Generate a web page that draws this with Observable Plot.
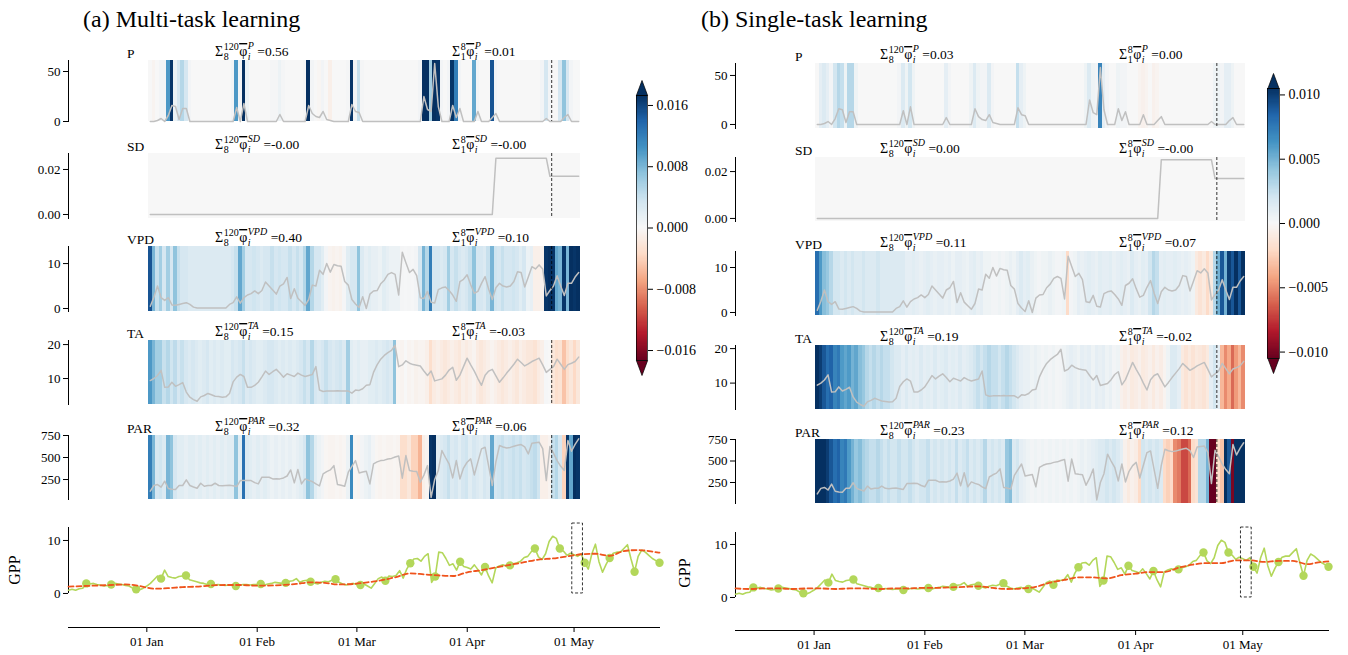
<!DOCTYPE html>
<html>
<head>
<meta charset="utf-8">
<script src="https://cdn.jsdelivr.net/npm/d3@7"></script>
<script src="https://cdn.jsdelivr.net/npm/@observablehq/plot@0.6"></script>
<style>
  body { margin: 0; background: #fff; }
  #root { position: relative; width: 1348px; height: 655px; overflow: hidden; background: #fff; }
</style>
</head>
<body>
<div id="root"></div>
<script>
// ---------------- DATA ----------------
const nLags = 120, lagSplit = 8;
const variables = ["P", "SD", "VPD", "TA", "PAR"];

// meteorological drivers over the 120-day window (same for both panels)
const metP = [
  0,0,1,3,0,6,16,15,2,13,13,0,0,0,0,0,0,0,0,0,
  0,0,0,0,14,0,18,0,0,0,0,0,0,0,0,0,7,0,0,0,
  0,0,0,0,16,8,5,4,10,2,1,0,0,0,0,0,17,10,9,0,
  0,0,0,0,0,0,0,0,0,0,0,0,0,0,0,0,25,12,10,58,
  15,0,0,0,16,4,13,0,0,0,0,10,0,0,0,4,8,0,0,0,
  0,0,0,0,0,0,0,0,0,0,3,0,0,0,0,4,7,0,0,0];
const metSD = [
  0,0,0,0,0,0,0,0,0,0,0,0,0,0,0,0,0,0,0,0,
  0,0,0,0,0,0,0,0,0,0,0,0,0,0,0,0,0,0,0,0,
  0,0,0,0,0,0,0,0,0,0,0,0,0,0,0,0,0,0,0,0,
  0,0,0,0,0,0,0,0,0,0,0,0,0,0,0,0,0,0,0,0,
  0,0,0,0,0,0,0,0,0,0,0,0,0,0,0,0,0.025,0.025,0.025,0.025,
  0.025,0.025,0.025,0.025,0.025,0.025,0.025,0.025,0.025,0.025,0.025,0.017,0.017,0.017,0.017,0.017,0.017,0.017,0.017,0.017];
const metVPD = [
  0.5,2.5,5.0,2.4,1.8,2.4,0.8,0.7,0.9,1.1,1.3,0.9,0.3,0.1,0.1,0.1,0.1,0.1,0.1,0.1,
  0.1,0.1,0.9,1.3,2.6,1.2,2.4,3.0,3.3,3.9,3.3,4.0,5.9,5.0,4.1,3.2,5.0,5.5,6.9,2.2,
  4.4,2.3,1.5,0.7,2.0,5.2,5.0,8.5,7.6,10.0,8.1,9.8,9.5,9.4,6.0,5.2,2.0,1.0,0.2,2.6,
  0.0,3.2,3.9,4.0,5.5,6.3,7.6,8.0,7.6,3.0,12.5,10.2,8.0,8.7,7.3,2.4,2.2,3.8,1.4,1.2,
  4.2,4.6,4.8,4.0,3.0,1.6,6.0,6.5,7.5,5.3,3.4,3.8,5.6,7.1,4.3,2.0,4.6,5.6,5.0,4.8,
  5.0,6.0,8.2,8.0,4.8,7.0,9.3,8.8,9.7,8.8,2.8,4.0,5.0,7.3,5.0,2.9,5.6,5.6,7.0,8.0];
const metTA = [
  9.4,10.0,10.9,12.4,7.4,7.5,8.9,7.7,8.2,8.8,6.0,4.5,3.8,3.3,4.6,5.0,5.6,5.2,4.8,4.7,
  4.5,4.6,5.6,9.0,10.4,11.2,10.6,7.4,7.4,8.0,8.9,10.5,12.2,11.2,12.0,12.7,11.6,10.4,11.4,11.0,
  10.6,11.6,11.0,10.6,10.9,11.2,13.5,6.6,6.2,6.3,6.3,6.3,6.4,6.3,6.3,6.3,5.7,6.6,6.5,7.0,
  8.0,8.2,11.8,14.0,15.7,16.8,17.6,18.3,19.8,13.5,14.0,15.2,14.5,14.1,13.9,13.7,12.2,10.9,12.2,9.3,
  9.6,9.9,11.0,12.5,13.3,9.5,11.0,13.5,16.0,14.0,12.2,10.0,8.0,11.0,12.2,12.7,10.8,8.9,10.2,11.6,
  12.9,14.2,15.7,14.7,13.7,14.3,15.0,15.5,16.0,14.0,11.8,12.7,13.5,15.7,14.2,12.7,14.1,14.5,15.0,16.3];
const metPAR = [
  117,182,193,163,231,148,140,136,182,182,247,182,165,151,208,174,182,182,208,182,
  178,182,185,178,170,238,238,240,238,215,200,276,276,276,257,260,257,268,290,359,
  212,363,200,257,240,227,200,178,314,340,359,408,193,185,174,333,400,465,325,335,
  344,200,427,450,465,470,484,490,505,518,265,522,352,345,340,219,300,408,48,250,
  352,579,500,427,268,465,257,380,446,484,302,450,598,617,400,182,450,636,620,609,
  615,628,640,647,620,541,662,668,674,600,238,624,550,465,400,352,693,571,650,712];

// SHAP values per lag cell, in units of 1e-3 — (a) multi-task
const shapMultiP = [
  0,-0.5,0,0.5,0.5,10,17,1,3,5,3,0.5,0,0,0,0,0,0,0,0,
  0,0,0,0.5,10,0.5,18,1,0,0,0,0,0,0,0.3,0.3,1,0.3,0,0,
  0,0,0,0.3,18,0.5,0,-0.3,0.5,0,-1,0,0,0,0,0.3,17,0.5,4,0.3,
  0,0,0,0,0,0,0,0,0,0,0,0,0,0,0,0.5,18,18,6,18,
  17,0.5,0,0.5,17,12,0.5,0,0,0,9,0.5,0,0,0,15,0.5,0,0,0,
  0,0,0,0,0,0,0,0,0,0.5,3,0.5,0,0,3,7,3,0.5,0,0];
const shapMultiSD = [
  0,0,0,0,0,0,0,0,0,0,0,0,0,0,0,0,0,0,0,0,
  0,0,0,0,0,0,0,0,0,0,0,0,0,0,0,0,0,0,0,0,
  0,0,0,0,0,0,0,0,0,0,0,0,0,0,0,0,0,0,0,0,
  0,0,0,0,0,0,0,0,0,0,0,0,0,0,0,0,0,0,0,0,
  0,0,0,0,0,0,0,0,0,0,0,0,0,0,0,0,0,0,0,0,
  0,0,0,0,0,0,0,0,0,0,0,0,0,0,0,0,0,0,0,0];
const shapMultiVPD = [
  15,8,4,6,3,6,3,7,4,3,3,2.5,2.5,2.5,2.5,2.5,2.5,2.5,2.5,2.5,
  2.5,2.5,2.5,3,4,9,6,3,3,3.5,3,2.5,3,3,4,3,3.5,3,3,4,
  3,4,3,5,9,5,3,3,2,0.5,-0.5,-0.8,-0.5,-0.8,0.3,2,3,3,7,2.5,
  1.5,2,1.5,1.5,1,2,1.5,1,1,1,0.3,0.2,0.3,0.2,0.5,3,8,5,12,3,
  3,2.5,3,6,3,4,3,2.5,3,4,7,3,3,2.5,4,8,3.5,3,4,3,
  3,3.5,3,2,3,1,1.5,-1,-1,-0.8,17,18,17,9,8,17,8,18,17,18];
const shapMultiTA = [
  10,8,6,6,4,5,3.5,4.5,3,4,3,2.5,3,2.5,2,2.5,3,2,2.5,2,
  2.5,2,2,3,2.5,3,4,2.5,3,2.5,2,2,2.5,3,3,2.5,2,2.5,2,2.5,
  2,2.5,3,4,3,5,3,2.5,3,4,3,2.5,3,3.5,2.5,6,2,1.5,2,1.5,
  1.5,2,2,2.5,2,2.5,3,2.5,7,-0.3,-0.5,0,-0.5,-0.3,-0.8,-0.5,-0.5,-1,-3,-1.5,
  -1,-1.5,-2,-1.5,-1,-1.5,-2,-1,-1.5,-1,-0.5,-1.5,-2,-1.5,-1,-0.5,-1,-1.5,-2,-1.5,
  -1,-1.5,-2,-1,-1.5,-2,-2,-2.5,-1.5,-1,0.2,0,-2,-3,-2.5,-5,-3,-2,-3.5,-2];
const shapMultiPAR = [
  12,8,3,3.5,2.5,8,7,3,2,2,1.5,2,2,1.5,2,1.5,2,1.5,2,1.5,
  2,1.5,2,2,7,2,13,2.5,2,1.5,2,1.5,2,1.5,1,1.5,1,1.5,1,1.5,
  1,1.5,2,3,7,5,2,1,0.5,-0.3,-0.5,-0.5,-0.3,-0.5,-0.3,1,11,-0.3,-0.5,0.5,
  1,1.5,0.5,-0.3,-0.5,-0.3,-0.5,-0.5,-0.3,-0.5,-3,-3,-2,-4,-4,-6,-1,-0.5,17,18,
  2,2.5,3,4,2.5,3,2,3,3.5,2,3,2.5,2,3,2.5,9,3,3.5,4,3,
  3.5,4,3.5,4,3,3.5,4,4.5,3.5,-1,-1,-0.5,4,5,3,-4,17,9,18,17];

// SHAP values per lag cell, in units of 1e-3 — (b) single-task
const shapSingleP = [
  0,1,1.5,1,0.3,2,3,2.5,0.5,3,3,0.5,0,0,0,0,0,0,0,0,
  0,0,0,0.3,1.5,0.5,2,0.5,0,0,0,0,0,0,0,0,1,0.3,0,0,
  0,0,0,0.5,1.5,0.5,0.3,0.3,1.5,0.3,0,0,0,0,0,0,2.5,1,0.5,0,
  0,0,0,0,0,0,0,0,0,0,0,0,0,0,0,0.5,1.5,0.5,0.3,7,
  1,0.3,0,0,0.5,0.3,0.3,0,0,0,-0.3,-0.5,-0.3,0,-0.5,-0.3,0,0,0,0,
  0,0,0,0,0,0,0,0,0,0,0,0.5,0.5,0.3,1,1,0.5,0,0,0];
const shapSingleSD = [
  0,0,0,0,0,0,0,0,0,0,0,0,0,0,0,0,0,0,0,0,
  0,0,0,0,0,0,0,0,0,0,0,0,0,0,0,0,0,0,0,0,
  0,0,0,0,0,0,0,0,0,0,0,0,0,0,0,0,0,0,0,0,
  0,0,0,0,0,0,0,0,0,0,0,0,0,0,0,0,0,0,0,0,
  0,0,0,0,0,0,0,0,0,0,0,0,0,0,0,0,0,0,0,0,
  0,0,0,0,0,0,0,0,0,0,0,0,0,0,0,0,0,0,0,0];
const shapSingleVPD = [
  8,6,4.5,4,3,2,2,1.5,2,1.5,2,1.5,1.5,2,1.5,1.5,1.5,2,1.5,1.5,
  1.5,1.5,1.5,1.5,1.5,1,1,1.2,1,0.8,1,1.2,1,0.8,1,1,0.8,1,0.6,1,
  1,0.8,0.6,1,1.2,0.8,1,0.5,0.5,0.3,0.3,0.5,0.3,0.5,0.8,0.5,1,1.5,1,1.2,
  0.8,0.5,0.3,0.5,0.5,0.8,0.5,0.3,0.3,0.5,-2,0.3,0.5,1,0.8,1,1.2,1,0.8,1.2,
  1,1,1.2,0.8,1,1.2,1,0.8,1.5,1,0.8,1.2,1,2,3,2.5,1,1.2,1,1,
  1.2,1,0.8,1,0.8,0.5,-1,-1.5,-1,-2,-1,3,5,9,5,10,9,10.5,9,10.5];
const shapSingleTA = [
  11,10,9,8,8.5,7,7.5,6,5.5,6,5,5.5,4.5,4,3,2.5,3,2.5,3,2.5,
  2.5,2,1.5,1.5,1,1.5,1,1.2,1,1.5,1,1.2,1,1.5,1,1.2,1.5,1,1.2,1,
  1.5,1,1.2,1.5,2,2.5,2,2.5,3,2.5,2.5,2,2.5,3,2.5,2,1.5,1,0.8,0.8,
  0.5,0.8,0.5,0.3,0.5,0.3,0.5,0.2,0.3,0.5,0.8,1,0.8,0.5,1,0.8,1,0.5,1,0.8,
  1,0.5,0.8,0.3,0.5,-0.5,-0.8,-0.5,-1,-0.8,-0.5,-1,-0.8,-0.5,-1,-0.5,-0.8,-0.3,0.5,1.5,
  1.5,1,-1,-1.5,-1,-1.5,-1,-1.2,-1.5,-1,1,2,1,-3.5,-5,-4,-6,-4.5,-3.5,-5];
const shapSinglePAR = [
  11,11,10.5,10,9,8,8.5,7,7.5,6,5,4,4.5,3.5,3,2.5,2.5,3,2.5,2,
  2.5,2,2,2.5,2,2,2.5,2,1.5,2,2,2.5,1.5,2,1.5,2,1.5,2,1.5,2.5,
  1.5,2,2.5,1.5,2,1.5,2,3,1.5,2,1.5,2,1.5,4,4.5,1.5,2,1,0.8,0.5,
  0.3,0.5,0.3,0.5,0.3,0.5,0.3,0.5,0.3,0.5,0.3,0.5,0.3,0.5,0.8,0.5,0.8,1,1.2,1.5,
  1.5,2,1.5,2,1.5,1,-0.5,-1,-0.5,-0.8,-2,2,1.5,2,1.5,2,1.5,-2,-2.5,-2,
  -5,-5.5,-7,-7,-6,-2,-1.5,3,3,5,-10.5,-10.5,-2,-3,11,9,-10,11,11,11];

// summed SHAP labels
const sumMulti120 = ["0.56", "-0.00", "0.40", "0.15", "0.32"];
const sumMulti8   = ["0.01", "-0.00", "0.10", "-0.03", "0.06"];
const sumSingle120 = ["0.03", "0.00", "0.11", "0.19", "0.23"];
const sumSingle8   = ["0.00", "-0.00", "0.07", "-0.02", "0.12"];

// GPP: daily observations from 2017-12-10
const gppObs = [
  0.6,0.8,0.6,0.9,1.0,1.9,1.8,1.9,1.7,1.6,
  1.4,1.5,1.7,1.9,1.8,1.7,1.5,1.4,1.0,0.8,
  0.7,1.0,1.4,1.9,2.6,3.3,2.8,4.4,3.2,3.0,
  2.9,3.2,3.3,3.4,2.6,2.4,2.2,2.0,1.9,1.7,
  1.8,1.6,1.7,1.6,1.5,1.6,1.6,1.4,1.5,1.7,
  1.7,1.6,1.7,1.7,1.8,1.6,1.8,1.9,2.1,2.0,
  1.9,2.0,2.3,2.4,2.8,2.1,2.4,2.5,2.2,2.0,
  1.8,2.1,2.3,2.2,2.5,2.7,2.1,1.8,1.6,1.8,
  1.9,1.7,1.6,1.8,1.4,1.0,1.9,2.8,3.1,2.4,
  3.3,3.2,3.4,4.3,2.9,4.6,5.7,6.5,6.6,6.1,
  7.0,7.5,2.1,3.2,7.8,7.7,6.6,5.3,5.6,4.4,
  6.0,5.1,4.9,4.6,5.4,4.5,3.5,5.0,3.3,2.0,
  4.8,5.2,5.4,5.2,5.3,5.6,5.8,6.1,6.8,7.0,
  7.9,8.5,6.9,6.4,7.5,9.8,10.8,10.4,8.5,8.0,
  7.2,7.6,7.3,7.0,7.5,5.8,4.6,7.5,9.3,6.0,
  4.0,5.5,6.7,7.6,7.8,7.8,8.5,9.2,6.5,4.1,
  7.0,8.2,7.8,7.2,6.6,6.2,5.8];
// weekly markers (from 2017-12-15, every 7 days)
const gppWeekly = [1.9,1.7,0.8,2.8,3.4,1.8,1.4,1.8,2.0,2.2,2.7,1.6,2.4,5.7,3.2,6.0,5.0,5.3,8.5,8.5,5.8,6.7,4.1,5.8];
// predicted GPP, every 4 days from 2017-12-10 (last point on day 166)
const gppPredMulti = [1.3,1.4,1.5,1.6,1.7,1.4,0.9,1.0,1.2,1.3,1.5,1.6,1.6,1.5,1.5,1.6,1.8,2.1,2.0,1.7,1.8,2.1,2.5,3.1,3.8,3.6,3.4,3.3,4.0,4.4,4.9,5.4,5.9,6.4,6.6,7.0,7.4,7.5,7.1,8.0,8.2,7.9,7.7];
const gppPredSingle = [1.7,1.6,1.7,1.7,1.6,1.7,1.7,1.6,1.7,1.7,1.6,1.7,1.7,1.8,1.8,1.9,2.0,2.1,1.8,1.6,1.7,2.0,2.8,3.3,3.8,3.8,3.6,4.2,4.5,4.8,4.8,5.6,6.2,6.5,6.5,7.0,7.0,6.7,6.9,6.9,6.3,6.7,6.8];
const predDays = [0,4,8,12,16,20,24,28,32,36,40,44,48,52,56,60,64,68,72,76,80,84,88,92,96,100,104,108,112,116,120,124,128,132,136,140,144,148,152,156,160,164,166];

const monthTicks = [Date.UTC(2018,0,1), Date.UTC(2018,1,1), Date.UTC(2018,2,1), Date.UTC(2018,3,1), Date.UTC(2018,4,1)];
const cbTicksMulti = [-0.016, -0.008, 0, 0.008, 0.016];
const cbTicksSingle = [-0.010, -0.005, 0, 0.005, 0.010];

// ---------------- LAYOUT ----------------
const FONT = "'Liberation Serif','Times New Roman','DejaVu Serif',serif";
const DAY = 864e5;
const START = Date.UTC(2017, 11, 10);
const END = START + 166 * DAY;
const TARGET = Date.UTC(2018, 4, 2);
const GREEN = "#b3d75a", ORANGE = "#ef531c", GRAY = "#c0c0c0";
const RDBU = d3.schemeRdBu[11]; // piecewise-linear, like matplotlib's RdBu

const met = {P: metP, SD: metSD, VPD: metVPD, TA: metTA, PAR: metPAR};
const tickVals = {P: [0, 50], SD: [0, 0.02], VPD: [0, 10], TA: [10, 20], PAR: [250, 500, 750]};
const tickFmt = {P: d3.format("d"), SD: d3.format(".2f"), VPD: d3.format("d"), TA: d3.format("d"), PAR: d3.format("d")};

const panels = [
  {title: "(a) Multi-task learning", titleX: 83, left: 0, width: 680, spine: 68, hx0: 148, hx1: 580,
   labX: 127, s1X: 215, s2X: 452,
   shap: {P: shapMultiP, SD: shapMultiSD, VPD: shapMultiVPD, TA: shapMultiTA, PAR: shapMultiPAR},
   s120: sumMulti120, s8: sumMulti8,
   tops: [60, 153, 246, 340, 435], bottoms: [121, 218, 311, 404, 499],
   domains: {P: [0, 61], SD: [-0.00178, 0.0271], VPD: [-0.67, 13.8], TA: [2.35, 21.2], PAR: [23, 750]},
   vmax: 0.0173, cbTicks: cbTicksMulti,
   cb: {left: 600, top: 60, width: 100, height: 330, ml: 36, mr: 53, mt: 35, mb: 30},
   gpp: {ml: 68, mr: 21, mt: 27, mb: 28, domain: [-6.42, 12.45]}, pred: gppPredMulti, gppLab: [15, 570]},
  {title: "(b) Single-task learning", titleX: 701, left: 680, width: 668, spine: 735, hx0: 815, hx1: 1245,
   labX: 795, s1X: 880, s2X: 1119,
   shap: {P: shapSingleP, SD: shapSingleSD, VPD: shapSingleVPD, TA: shapSingleTA, PAR: shapSinglePAR},
   s120: sumSingle120, s8: sumSingle8,
   tops: [63, 157, 251, 345, 439], bottoms: [128, 221, 315, 409, 503],
   domains: {P: [-4.1, 62.2], SD: [-0.0013, 0.026], VPD: [-0.67, 13.56], TA: [2.35, 20.9], PAR: [6, 750]},
   vmax: 0.0105, cbTicks: cbTicksSingle,
   cb: {left: 1230, top: 55, width: 118, height: 330, ml: 37, mr: 69, mt: 33, mb: 27},
   gpp: {ml: 55, mr: 20, mt: 32, mb: 25, domain: [-6.23, 12.26]}, pred: gppPredSingle, gppLab: [685, 573]}
];

const root = document.getElementById("root");
const baseStyle = {fontFamily: FONT, fontSize: "13px", color: "black", background: "transparent", overflow: "visible"};
function place(el, left, top) {
  el.style.position = "absolute";
  el.style.left = left + "px";
  el.style.top = top + "px";
  root.appendChild(el);
}
function colorScale(vmax, clamp) {
  return {type: "linear", domain: RDBU.map((_, k) => -vmax + 2 * vmax * k / (RDBU.length - 1)), range: RDBU, clamp};
}

// ---------------- HEATMAP ROWS ----------------
for (const p of panels) {
  variables.forEach((v, k) => {
    const pad = 8;
    const top = p.tops[k], bottom = p.bottoms[k];
    const W = p.hx1 - p.left + 6;
    const Hh = bottom - top + 2 * pad;
    const table = p.shap[v].map((s, i) => ({i, s: s * 1e-3, m: met[v][i]}));
    const plot = Plot.plot({
      width: W, height: Hh,
      marginTop: pad, marginBottom: pad,
      marginLeft: p.spine - p.left, marginRight: W - (p.hx1 - p.left),
      style: baseStyle,
      x: {domain: [0, nLags], range: [p.hx0 - p.left, p.hx1 - p.left], axis: null},
      y: {domain: p.domains[v], ticks: tickVals[v], tickFormat: tickFmt[v], tickSize: 5, tickPadding: 3, line: true, label: null},
      color: colorScale(p.vmax, true),
      marks: [
        Plot.barX(table, {x1: "i", x2: d => d.i + 1, fill: "s", shapeRendering: "crispEdges"}),
        Plot.line(table, {x: d => d.i + 0.5, y: "m", stroke: GRAY, strokeWidth: 1.5}),
        Plot.ruleX([nLags - lagSplit], {stroke: "black", strokeWidth: 0.8, strokeDasharray: "3,2"})
      ]
    });
    place(plot, p.left, top - pad);
  });

  // ---------------- COLORBAR ----------------
  const c = p.cb;
  const nSteps = 240;
  const ramp = d3.range(nSteps).map(j => ({
    y1: -p.vmax + 2 * p.vmax * j / nSteps,
    y2: -p.vmax + 2 * p.vmax * (j + 1) / nSteps
  }));
  const triUp = {draw(ctx) { ctx.moveTo(-5.6, 0); ctx.lineTo(0, -15); ctx.lineTo(5.6, 0); ctx.closePath(); }};
  const triDown = {draw(ctx) { ctx.moveTo(-5.6, 0); ctx.lineTo(0, 15); ctx.lineTo(5.6, 0); ctx.closePath(); }};
  const cb = Plot.plot({
    width: c.width, height: c.height,
    marginLeft: c.ml, marginRight: c.mr, marginTop: c.mt, marginBottom: c.mb,
    style: {...baseStyle, fontSize: "14px"},
    x: {axis: null},
    y: {domain: [-p.vmax, p.vmax], axis: "right", ticks: p.cbTicks, tickFormat: d3.format(".3f"), tickSize: 5, tickPadding: 4, label: null},
    color: colorScale(p.vmax, true),
    marks: [
      Plot.barY(ramp, {y1: "y1", y2: "y2", fill: d => (d.y1 + d.y2) / 2, shapeRendering: "crispEdges"}),
      Plot.dot([p.vmax], {y: d => d, symbol: triUp, fill: RDBU[RDBU.length - 1], stroke: "black", strokeWidth: 0.7}),
      Plot.dot([-p.vmax], {y: d => d, symbol: triDown, fill: RDBU[0], stroke: "black", strokeWidth: 0.7}),
      Plot.frame({stroke: "black", strokeWidth: 0.7})
    ]
  });
  place(cb, c.left, c.top);

  // ---------------- GPP ----------------
  const g = p.gpp;
  const obs = gppObs.map((val, d) => ({t: new Date(START + d * DAY), v: val}));
  const wk = gppWeekly.map((val, k) => ({t: new Date(START + (5 + 7 * k) * DAY), v: val}));
  const pr = p.pred.map((val, j) => ({t: new Date(START + predDays[j] * DAY), v: val}));
  const gp = Plot.plot({
    width: p.width, height: 155,
    marginLeft: g.ml, marginRight: g.mr, marginTop: g.mt, marginBottom: g.mb,
    style: baseStyle,
    x: {type: "utc", domain: [new Date(START), new Date(END)], ticks: monthTicks.map(t => new Date(t)),
        tickFormat: d3.utcFormat("%d %b"), tickSize: 5, tickPadding: 4, line: true, label: null},
    y: {domain: g.domain, ticks: [0, 10], tickFormat: d3.format("d"), tickSize: 5, tickPadding: 3, label: null},
    marks: [
      Plot.ruleX([new Date(START)], {y1: 0, y2: g.domain[1], stroke: "black", strokeWidth: 1}),
      Plot.line(obs, {x: "t", y: "v", stroke: GREEN, strokeWidth: 1.6}),
      Plot.dot(wk, {x: "t", y: "v", fill: GREEN, r: 4.2}),
      Plot.line(pr, {x: "t", y: "v", stroke: ORANGE, strokeWidth: 1.8, strokeDasharray: "5,3", curve: "monotone-x"}),
      Plot.rect([TARGET], {x1: d => new Date(d - 1.5 * DAY), x2: d => new Date(d + 1.5 * DAY), y1: 0, y2: 13.2,
        fill: "none", stroke: "black", strokeWidth: 0.8, strokeDasharray: "3,2"})
    ]
  });
  place(gp, p.left, 500);
}

// ---------------- TEXT OVERLAY ----------------
const ov = d3.select(root).append("svg")
  .attr("width", 1348).attr("height", 655)
  .style("position", "absolute").style("left", "0px").style("top", "0px")
  .style("font-family", FONT).style("pointer-events", "none");

function txt(x, y, s, size, opts = {}) {
  const t = ov.append("text").attr("x", x).attr("y", y).attr("font-size", size).attr("fill", "black").text(s);
  if (opts.italic) t.attr("font-style", "italic");
  if (opts.deco) t.attr("text-decoration", opts.deco);
  if (opts.anchor) t.attr("text-anchor", opts.anchor);
  if (opts.transform) t.attr("transform", opts.transform);
  return t.node().getComputedTextLength();
}
function sigmaLabel(x, y, hi, lo, name, val) {
  let cx = x;
  cx += txt(cx, y, "Σ", 14);
  const a = txt(cx + 0.5, y - 6.5, hi, 10), b = txt(cx + 0.5, y + 3.5, lo, 10);
  cx += Math.max(a, b) + 1;
  const wphi = txt(cx, y, "φ", 14, {deco: "overline"});
  const c = txt(cx + wphi + 0.5, y - 7.5, name, 10, {italic: true});
  const e = txt(cx + wphi + 0.5, y + 3.5, "i", 10, {italic: true});
  cx += wphi + Math.max(c, e) + 4;
  txt(cx, y, "=" + val, 13.5);
}

for (const p of panels) {
  txt(p.titleX, 27, p.title, 24);
  variables.forEach((v, k) => {
    const top = p.tops[k];
    txt(p.labX, top - 2, v, 13.5);
    sigmaLabel(p.s1X, top - 4, "120", "8", v, p.s120[k]);
    sigmaLabel(p.s2X, top - 4, "8", "1", v, p.s8[k]);
  });
  const [gx, gy] = p.gppLab;
  txt(gx, gy, "GPP", 16, {anchor: "middle", transform: `rotate(-90 ${gx} ${gy}) translate(0 5)`});
}
</script>
</body>
</html>
